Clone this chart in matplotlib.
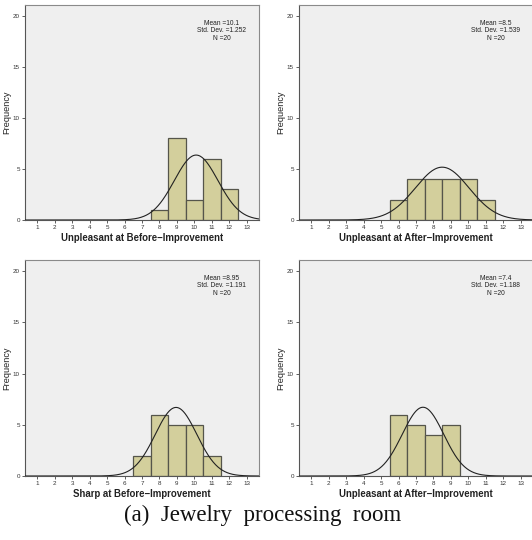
import numpy as np
import matplotlib
matplotlib.use("Agg")
import matplotlib.pyplot as plt

# ---- data ----
bins = [1, 2, 3, 4, 5, 6, 7, 8, 9, 10, 11, 12, 13]
p1_vals = [8, 9, 10, 11, 12]
p1_freq = [1, 8, 2, 6, 3]
p2_vals = [6, 7, 8, 9, 10, 11]
p2_freq = [2, 4, 4, 4, 4, 2]
p3_vals = [7, 8, 9, 10, 11]
p3_freq = [2, 6, 5, 5, 2]
p4_vals = [6, 7, 8, 9]
p4_freq = [6, 5, 4, 5]

means = [10.1, 8.5, 8.95, 7.4]
sds = [1.252, 1.539, 1.191, 1.188]
ns = [20, 20, 20, 20]
xlabels = ["Unpleasant at Before\u2212Improvement",
           "Unpleasant at After\u2212Improvement",
           "Sharp at Before\u2212Improvement",
           "Unpleasant at After\u2212Improvement"]
yticks = [0, 5, 10, 15, 20]
caption = "(a)  Jewelry  processing  room"

panels = [(p1_vals, p1_freq), (p2_vals, p2_freq), (p3_vals, p3_freq), (p4_vals, p4_freq)]

W, H = 532, 540
fig = plt.figure(figsize=(W / 100, H / 100), dpi=100)
fig.patch.set_facecolor("white")

# axes boxes in pixels: (left, top, right, bottom)
boxes = [(25, 5, 259, 220), (299, 5, 533, 220), (25, 260, 259, 476), (299, 260, 533, 476)]

bar_color = "#d3cf9c"
edge_color = "#55554b"
sans = ["Liberation Sans", "DejaVu Sans"]

for i, (ax_box, (vals, freq)) in enumerate(zip(boxes, panels)):
    l, t, r, b = ax_box
    ax = fig.add_axes([l / W, 1 - b / H, (r - l) / W, (b - t) / H])
    ax.set_facecolor("#efefef")
    ax.bar(vals, freq, width=1.0, color=bar_color, edgecolor=edge_color, linewidth=0.9, zorder=2)
    xs = np.linspace(0.3, 13.7, 400)
    m, s, n = means[i], sds[i], ns[i]
    ys = n * np.exp(-0.5 * ((xs - m) / s) ** 2) / (s * np.sqrt(2 * np.pi))
    ax.plot(xs, ys, color="#222222", linewidth=0.8, zorder=3)
    ax.set_xlim(0.3, 13.7)
    ax.set_ylim(0, 21.1)
    ax.set_xticks(bins)
    ax.set_xticklabels([str(v) for v in bins], fontsize=4.5, family=sans, color="#333333")
    ax.set_yticks(yticks)
    ax.set_yticklabels([str(v) for v in yticks], fontsize=4.5, family=sans, color="#333333")
    ax.tick_params(axis="both", length=2.5, width=0.6, color="#444444", pad=1.2)
    for sp in ax.spines.values():
        sp.set_color("#8a8a8a")
        sp.set_linewidth(0.8)
    ax.spines["bottom"].set_color("#555555")
    ax.spines["left"].set_color("#555555")
    ax.set_xlabel(xlabels[i], fontsize=6.9, family=sans, fontweight="bold", color="#222222", labelpad=2)
    ax.set_ylabel("Frequency", fontsize=6.6, family=sans, color="#222222", labelpad=1)
    stat = f"Mean ={m:g}\nStd. Dev. ={s:g}\nN ={n}"
    ax.text(0.84, 0.93, stat, transform=ax.transAxes, ha="center", va="top",
            fontsize=4.8, family=sans, color="#222222", linespacing=1.05)

fig.text(0.493, 1 - 515 / H, caption, ha="center", va="center",
         fontsize=16.5, family=["Liberation Serif", "DejaVu Serif"], color="#111111")

fig.savefig("out.png", dpi=100)
